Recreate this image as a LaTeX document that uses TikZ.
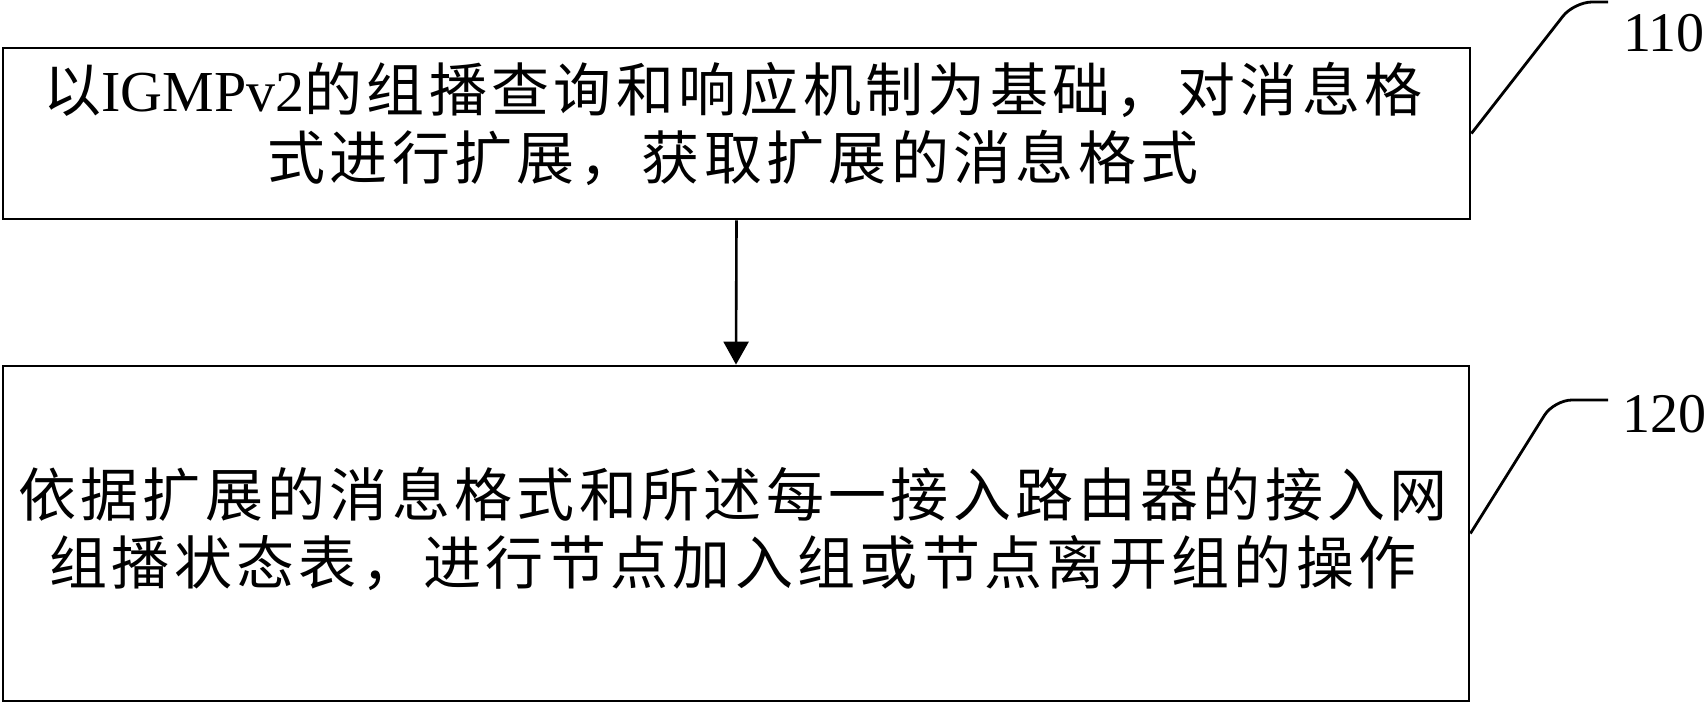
\documentclass[tikz,border=0pt]{standalone}
\usepackage{fontspec}
\setmainfont{Liberation Serif}
\newfontfamily\cjk{Noto Sans CJK SC}[LetterSpace=7.5]
\usetikzlibrary{arrows.meta}
\begin{document}
\begin{tikzpicture}[x=0.5pt,y=-0.5pt,
  box/.style={draw,line width=1.4pt,inner sep=0pt},
  txt/.style={inner sep=0pt,align=center,font=\fontsize{29}{34}\selectfont},
  conn/.style={line width=1.3pt},
  callout/.style={line width=1.4pt,rounded corners=9pt},
  lbl/.style={inner sep=0pt,font=\fontsize{28}{34}\selectfont}]
\useasboundingbox (0,0) rectangle (1707,707);
\node[box,minimum width=733.5pt,minimum height=85.5pt] (b1) at (736.5,133.5) {};
\node[box,minimum width=733pt,minimum height=167.5pt] (b2) at (736,533.5) {};
\node[txt] (t1) at (733,124)
  {{\cjk 以}IGMPv2{\cjk 的组播查询和响应机制为基础，对消息格}\\
   {\cjk 式进行扩展，获取扩展的消息格式}};
\node[txt] (t2) at (733,529)
  {{\cjk 依据扩展的消息格式和所述每一接入路由器的接入网}\\
   {\cjk 组播状态表，进行节点加入组或节点离开组的操作}};
\draw[conn,-{Triangle[length=11.5pt,width=12.5pt]}] (b1.south) -- (b2.north);
\node[lbl] (l1) at (1664,33) {110};
\node[lbl] (l2) at (1664,414) {120};
\coordinate (c1) at (1608,2);
\coordinate (c2) at (1608,400);
\draw[callout] (b1.east) -- (1574,2) -- (c1);
\draw[callout] (b2.east) -- (1554,400) -- (c2);
\end{tikzpicture}
\end{document}
